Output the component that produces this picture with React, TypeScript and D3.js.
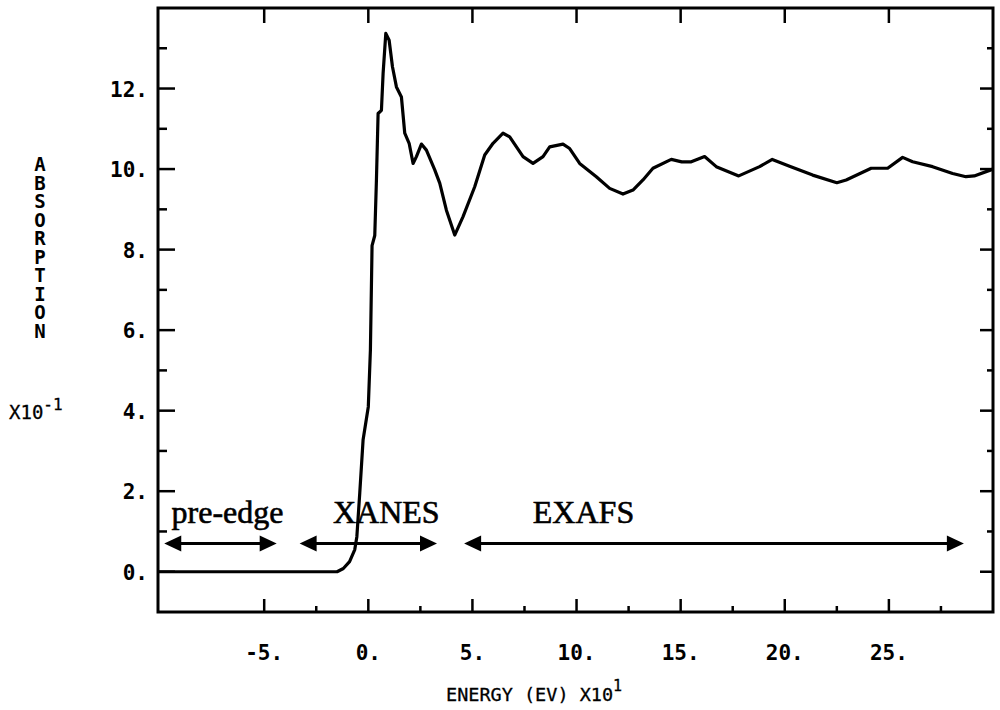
import React from "react";
import * as d3 from "d3";

// energy in units of 10 eV, absorption in units of 0.1
const energy = [
  -10.1, -1.5, -1.2, -0.9, -0.65, -0.55, -0.41, -0.25, 0.0, 0.1, 0.18, 0.31,
  0.39, 0.47, 0.63, 0.71, 0.84, 1.0, 1.16, 1.35, 1.59, 1.75, 1.96, 2.15, 2.31,
  2.55, 2.79, 3.19, 3.43, 3.75, 4.15, 4.55, 5.11, 5.59, 5.99, 6.47, 6.79, 7.43,
  7.91, 8.39, 8.71, 9.35, 9.67, 10.15, 10.95, 11.59, 12.23, 12.71, 13.19,
  13.67, 14.55, 15.05, 15.51, 16.15, 16.71, 17.79, 18.79, 19.4, 20.23, 21.34,
  22.5, 22.95, 24.15, 24.94, 25.66, 26.14, 27.1, 28.06, 28.7, 29.1, 29.9, 30.0,
];
const absorption = [
  0, 0, 0.08, 0.25, 0.55, 0.87, 1.96, 3.28, 4.1, 5.5, 8.1, 8.35, 9.73, 11.38,
  11.46, 12.37, 13.37, 13.2, 12.54, 12.04, 11.79, 10.89, 10.64, 10.14, 10.31,
  10.62, 10.47, 9.98, 9.65, 8.98, 8.36, 8.82, 9.56, 10.35, 10.64, 10.89, 10.8,
  10.31, 10.14, 10.31, 10.55, 10.62, 10.51, 10.14, 9.81, 9.52, 9.38, 9.48,
  9.73, 10.02, 10.24, 10.18, 10.18, 10.31, 10.06, 9.83, 10.06, 10.24, 10.07,
  9.85, 9.66, 9.73, 10.02, 10.02, 10.29, 10.18, 10.06, 9.89, 9.81, 9.83, 9.98,
  10.0,
];

const xMajor = [-5, 0, 5, 10, 15, 20, 25];
const xMinor = [-2.5, 2.5, 7.5, 12.5, 17.5, 22.5, 27.5];
const yMajor = [0, 2, 4, 6, 8, 10, 12];
const yMinor = [1, 3, 5, 7, 9, 11, 13];

// regions marked under the curve: [label, from, to]
const regions: [string, number, number][] = [
  ["pre-edge", -9.8, -4.4],
  ["XANES", -3.3, 3.3],
  ["EXAFS", 4.6, 28.6],
];
const regionLabelX = [-9.45, -1.7, 7.9];
const arrowY = 0.7;
const labelY = 1.2;

const W = 1000;
const H = 710;
const left = 158;
const right = 993;
const top = 8;
const bottom = 612;

const mono = "'DejaVu Sans Mono', monospace";

export default function App() {
  const x = d3.scaleLinear().domain([-10.1, 30.0]).range([left, right]);
  const y = d3.scaleLinear().domain([-1, 14]).range([bottom, top]);

  const pts = energy.map((e, i) => [e, absorption[i]] as [number, number]);
  const line = d3
    .line<[number, number]>()
    .x((d) => x(d[0]))
    .y((d) => y(d[1]));

  const head = (x0: number, yy: number, dir: number) => {
    const len = 17;
    const half = 8;
    return `M${x0},${yy} L${x0 + dir * len},${yy - half} L${x0 + dir * len},${yy + half} Z`;
  };

  return (
    <svg
      width={W}
      height={H}
      style={{ position: "absolute", left: 0, top: 0, background: "#fff" }}
    >
      <rect x={0} y={0} width={W} height={H} fill="#fff" />

      {/* frame */}
      <rect
        x={left}
        y={top}
        width={right - left}
        height={bottom - top}
        fill="none"
        stroke="#000"
        strokeWidth={3}
      />

      {/* x ticks */}
      {xMajor.map((t) => (
        <g key={"xm" + t}>
          <line x1={x(t)} x2={x(t)} y1={bottom} y2={bottom - 13} stroke="#000" strokeWidth={2.5} />
          <line x1={x(t)} x2={x(t)} y1={top} y2={top + 15} stroke="#000" strokeWidth={2.5} />
          <text
            x={x(t)}
            y={660}
            textAnchor="middle"
            fontFamily={mono}
            fontWeight="bold"
            fontSize={21}
          >
            {t + "."}
          </text>
        </g>
      ))}
      {xMinor.map((t) => (
        <line key={"xn" + t} x1={x(t)} x2={x(t)} y1={bottom} y2={bottom - 6} stroke="#000" strokeWidth={2.5} />
      ))}

      {/* y ticks */}
      {yMajor.map((t) => (
        <g key={"ym" + t}>
          <line x1={left} x2={left + 17} y1={y(t)} y2={y(t)} stroke="#000" strokeWidth={2.5} />
          <line x1={right} x2={right - 13} y1={y(t)} y2={y(t)} stroke="#000" strokeWidth={2.5} />
          <text
            x={148}
            y={y(t) + 8}
            textAnchor="end"
            fontFamily={mono}
            fontWeight="bold"
            fontSize={21}
          >
            {t + "."}
          </text>
        </g>
      ))}
      {yMinor.map((t) => (
        <g key={"yn" + t}>
          <line x1={left} x2={left + 9} y1={y(t)} y2={y(t)} stroke="#000" strokeWidth={2.5} />
          <line x1={right} x2={right - 6} y1={y(t)} y2={y(t)} stroke="#000" strokeWidth={2.5} />
        </g>
      ))}

      {/* axis titles */}
      <text x={446} y={701} fontFamily={mono} fontSize={18.5} stroke="#000" strokeWidth={0.3}>
        ENERGY (EV) X10
        <tspan dy={-10} fontSize={15}>1</tspan>
      </text>
      <text
        x={40}
        y={153}
        fontFamily={mono}
        fontSize={19}
        fontWeight="bold"
        letterSpacing={-3.5}
        style={{ writingMode: "vertical-rl", textOrientation: "upright" }}
      >
        ABSORPTION
      </text>
      <text x={9} y={419} fontFamily={mono} fontSize={19} stroke="#000" strokeWidth={0.3}>
        X10
        <tspan dy={-9} fontSize={16}>-1</tspan>
      </text>

      {/* curve */}
      <path
        d={line(pts) || ""}
        fill="none"
        stroke="#000"
        strokeWidth={3.2}
        strokeLinejoin="round"
      />

      {/* region arrows */}
      {regions.map(([name, a, b], i) => (
        <g key={name}>
          <line x1={x(a) + 10} x2={x(b) - 10} y1={y(arrowY)} y2={y(arrowY)} stroke="#000" strokeWidth={3} />
          <path d={head(x(a), y(arrowY), 1)} fill="#000" />
          <path d={head(x(b), y(arrowY), -1)} fill="#000" />
          <text
            x={x(regionLabelX[i])}
            y={y(labelY)}
            fontFamily="'Liberation Serif', 'DejaVu Serif', serif"
            fontSize={32}
            stroke="#000"
            strokeWidth={0.6}
          >
            {name}
          </text>
        </g>
      ))}
    </svg>
  );
}
